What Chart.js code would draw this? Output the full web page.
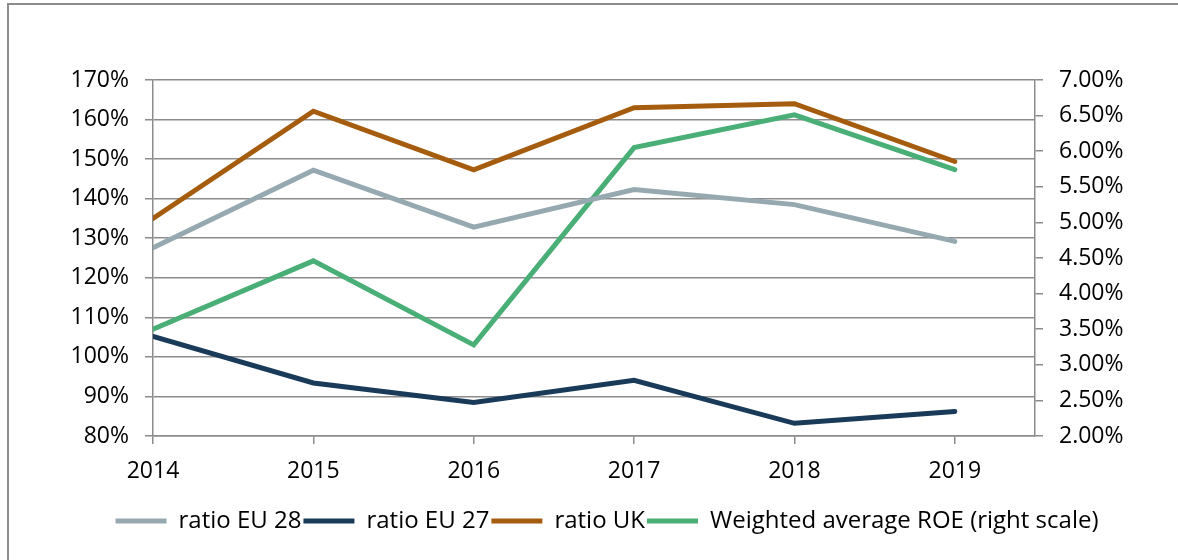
<!DOCTYPE html>
<html>
<head>
<meta charset="utf-8">
<script src="https://cdn.jsdelivr.net/npm/chart.js@4/dist/chart.umd.min.js"></script>
<style>
  html, body { margin: 0; padding: 0; background: #fff; }
  #wrap { position: relative; width: 1178px; height: 560px; overflow: hidden; }
  #frame { position: absolute; left: 7px; top: 3px; width: 1300px; height: 700px;
           border-left: 2px solid #8c8c8c; border-top: 2px solid #8c8c8c; }
  canvas { position: absolute; left: 0; top: 0; }
</style>
</head>
<body>
<div id="wrap">
  <div id="frame"></div>
  <canvas id="chart" width="1178" height="560"></canvas>
</div>
<script>
"use strict";

// values
var years = [2014, 2015, 2016, 2017, 2018, 2019];
var ratioEU28 = [127.6, 147.2, 132.8, 142.3, 138.5, 129.2];
var ratioEU27 = [105.2, 93.4, 88.5, 94.1, 83.2, 86.2];
var ratioUK = [135.0, 162.1, 147.3, 163.0, 164.0, 149.4];
var roe = [3.50, 4.46, 3.28, 6.05, 6.51, 5.74];

var leftTicks = { min: 80, max: 170, step: 10 };
var rightTicks = { min: 2, max: 7, step: 0.5 };

var gridColor = '#8c8c8c';
var fontFamily = "'Open Sans', 'Noto Sans', sans-serif";

function points(values) {
    return years.map(function (yr, i) { return { x: yr, y: values[i] }; });
}

function series(label, values, color, axis) {
    return {
        label: label,
        data: points(values),
        borderColor: color,
        backgroundColor: color,
        borderWidth: 5,
        borderCapStyle: 'round',
        borderJoinStyle: 'miter',
        pointRadius: 0,
        pointStyle: 'line',
        tension: 0,
        yAxisID: axis
    };
}

Chart.defaults.font.family = fontFamily;
Chart.defaults.color = '#000';

var ctx = document.getElementById('chart').getContext('2d');

new Chart(ctx, {
    type: 'line',
    data: {
        datasets: [
            series('ratio EU 28', ratioEU28, '#97a9b0', 'y'),
            series('ratio EU 27', ratioEU27, '#1a3a5a', 'y'),
            series('ratio UK', ratioUK, '#a65c0e', 'y'),
            series('Weighted average ROE (right scale)', roe, '#4aae77', 'y2')
        ]
    },
    options: {
        responsive: false,
        animation: false,
        layout: { padding: { top: 80, bottom: 17, left: 36, right: 0 } },
        plugins: {
            tooltip: { enabled: false },
            legend: {
                position: 'bottom',
                labels: {
                    usePointStyle: true,
                    pointStyleWidth: 51,
                    boxHeight: 5,
                    padding: 2,
                    font: { size: 24 },
                    color: '#000'
                }
            }
        },
        scales: {
            x: {
                type: 'linear',
                min: years[0],
                max: years[years.length - 1] + 0.5,
                afterFit: function (scale) { scale.height = 71; },
                grid: { drawOnChartArea: false, drawTicks: true, tickLength: 8, color: gridColor, lineWidth: 1.5 },
                border: { display: true, color: gridColor, width: 1.5 },
                ticks: {
                    stepSize: 1,
                    includeBounds: false,
                    padding: 14,
                    maxRotation: 0,
                    font: { size: 23 },
                    callback: function (v) { return String(v); }
                }
            },
            y: {
                position: 'left',
                min: leftTicks.min,
                max: leftTicks.max,
                afterFit: function (scale) { scale.width = 117; },
                grid: { color: gridColor, lineWidth: 1.5, tickLength: 8 },
                border: { display: true, color: gridColor, width: 1.5 },
                ticks: {
                    stepSize: leftTicks.step,
                    padding: 16,
                    font: { size: 23 },
                    callback: function (v) { return v + '%'; }
                }
            },
            y2: {
                position: 'right',
                min: rightTicks.min,
                max: rightTicks.max,
                afterFit: function (scale) { scale.width = 143; },
                grid: { drawOnChartArea: false, color: gridColor, lineWidth: 1.5, tickLength: 8 },
                border: { display: true, color: gridColor, width: 1.5 },
                ticks: {
                    stepSize: rightTicks.step,
                    padding: 16,
                    font: { size: 23 },
                    callback: function (v) { return v.toFixed(2) + '%'; }
                }
            }
        }
    }
});
</script>
</body>
</html>
